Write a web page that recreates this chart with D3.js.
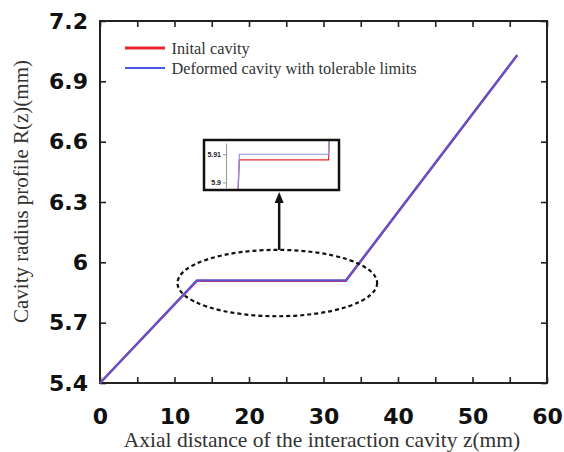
<!DOCTYPE html>
<html>
<head>
<meta charset="utf-8">
<script src="https://cdn.jsdelivr.net/npm/d3@7"></script>
<style>
  html, body { margin: 0; padding: 0; background: #fff; }
  svg { display: block; }
</style>
</head>
<body>
<svg id="chart" width="564" height="452"></svg>
<script>
// Axial position along the cavity (mm)
const zValues = [0, 13, 33, 56];
// Cavity radius profiles R(z) (mm)
const initialRadius = [5.4, 5.908, 5.908, 7.03];
const deformedRadius = [5.4, 5.91, 5.91, 7.03];
// Axis ticks
const xTicks = [0, 5, 10, 15, 20, 25, 30, 35, 40, 45, 50, 55, 60];
const yTicks = [5.4, 5.7, 6.0, 6.3, 6.6, 6.9, 7.2];
const insetTicks = [5.9, 5.91];
const seriesNames = ["Inital cavity", "Deformed cavity with tolerable limits"];

const svg = d3.select("#chart");
const W = 564, H = 452;
const m = { left: 100, right: 17, top: 21, bottom: 69 };

const x = d3.scaleLinear().domain([0, 60]).range([m.left, W - m.right]);
const y = d3.scaleLinear().domain([5.4, 7.2]).range([H - m.bottom, m.top]);

const RED = "#e8262a", BLUE = "#4a5ae6";
const tickFont = "'DejaVu Sans', Arial, sans-serif";
const serif = "'Liberation Serif', 'Times New Roman', serif";

const initial = zValues.map((z, i) => ({ z, r: initialRadius[i] }));
const deformed = zValues.map((z, i) => ({ z, r: deformedRadius[i] }));

// Axes with inward ticks on all four sides
function styleAxis(g) {
  g.select(".domain").remove();
  g.selectAll(".tick line").attr("stroke", "#222").attr("stroke-width", 1.6);
  g.selectAll("text").attr("fill", "#111").attr("font-family", tickFont)
    .attr("font-weight", "bold").attr("font-size", 22);
}
svg.append("g").attr("transform", `translate(0,${y(5.4)})`)
  .call(d3.axisBottom(x).tickValues(xTicks).tickSize(-6).tickPadding(25)
    .tickFormat(d => d % 10 === 0 ? d : ""))
  .call(styleAxis);
svg.append("g").attr("transform", `translate(0,${y(7.2)})`)
  .call(d3.axisTop(x).tickValues(xTicks).tickSize(-6).tickFormat(""))
  .call(styleAxis);
svg.append("g").attr("transform", `translate(${x(0)},0)`)
  .call(d3.axisLeft(y).tickValues(yTicks).tickSize(-6).tickPadding(12)
    .tickFormat(d => String(+d.toFixed(1))))
  .call(styleAxis);
svg.append("g").attr("transform", `translate(${x(60)},0)`)
  .call(d3.axisRight(y).tickValues(yTicks).tickSize(-6).tickFormat(""))
  .call(styleAxis);

// Plot frame
svg.append("rect")
  .attr("x", x(0)).attr("y", y(7.2))
  .attr("width", x(60) - x(0)).attr("height", y(5.4) - y(7.2))
  .attr("fill", "none").attr("stroke", "#222").attr("stroke-width", 2);

// Profiles
const line = d3.line().x(d => x(d.z)).y(d => y(d.r));
svg.append("path").datum(initial).attr("d", line)
  .attr("fill", "none").attr("stroke", RED).attr("stroke-width", 2.4);
svg.append("path").datum(deformed).attr("d", line)
  .attr("fill", "none").attr("stroke", BLUE).attr("stroke-width", 2.2).attr("opacity", 0.9);

// Dashed ellipse around the flat section
const ell = { z: 23.8, r: 5.897, dz: 13.4, dr: 0.165 };
svg.append("ellipse")
  .attr("cx", x(ell.z)).attr("cy", y(ell.r))
  .attr("rx", x(ell.dz) - x(0)).attr("ry", y(5.4) - y(5.4 + ell.dr))
  .attr("fill", "none").attr("stroke", "#111").attr("stroke-width", 2.2)
  .attr("stroke-dasharray", "4,3");

// Inset: magnified view of the flat section
const box = { x0: 204, y0: 140, x1: 339, y1: 190 };
const xi = d3.scaleLinear().domain([10, 35]).range([226, 337.5]);
const yi = d3.scaleLinear().domain([5.898, 5.914]).range([box.y1 - 2, box.y0 + 3]);

svg.append("rect").attr("x", box.x0).attr("y", box.y0)
  .attr("width", box.x1 - box.x0).attr("height", box.y1 - box.y0)
  .attr("fill", "#fff");

svg.append("defs").append("clipPath").attr("id", "insetClip")
  .append("rect").attr("x", box.x0 + 1).attr("y", box.y0 + 1)
  .attr("width", box.x1 - box.x0 - 2).attr("height", box.y1 - box.y0 - 2);

const insetAxis = svg.append("g").attr("transform", `translate(${xi(10)},0)`)
  .call(d3.axisLeft(yi).tickValues(insetTicks).tickSize(3).tickSizeOuter(0).tickPadding(2)
    .tickFormat(d => String(+d.toFixed(2))));
insetAxis.select(".domain").attr("stroke", "#999").attr("stroke-width", 1);
insetAxis.selectAll(".tick line").attr("stroke", "#999");
insetAxis.selectAll("text").attr("font-family", "'Liberation Sans', Arial, sans-serif")
  .attr("font-size", 7).attr("font-weight", "bold").attr("fill", "#222");

const lineInset = d3.line().x(d => xi(d.z)).y(d => yi(d.r));
const insetG = svg.append("g").attr("clip-path", "url(#insetClip)");
insetG.append("path").datum(initial).attr("d", lineInset)
  .attr("fill", "none").attr("stroke", RED).attr("stroke-width", 1.2);
insetG.append("path").datum(deformed).attr("d", lineInset)
  .attr("fill", "none").attr("stroke", "#8a94ee").attr("stroke-width", 1.2);

svg.append("rect").attr("x", box.x0).attr("y", box.y0)
  .attr("width", box.x1 - box.x0).attr("height", box.y1 - box.y0)
  .attr("fill", "none").attr("stroke", "#111").attr("stroke-width", 2.5);

// Arrow from the ellipse to the inset
const ax = x(24.05), ayFrom = y(ell.r + ell.dr), ayTo = box.y1 + 2;
svg.append("line").attr("x1", ax).attr("x2", ax).attr("y1", ayFrom).attr("y2", ayTo + 8)
  .attr("stroke", "#111").attr("stroke-width", 2.5);
svg.append("path")
  .attr("d", `M${ax},${ayTo} L${ax - 4.5},${ayTo + 11} L${ax + 4.5},${ayTo + 11} Z`)
  .attr("fill", "#111");

// Legend
const legend = svg.append("g");
const legendItems = [
  { name: seriesNames[0], color: RED, w: 3, ly: 48 },
  { name: seriesNames[1], color: BLUE, w: 2, ly: 68 }
];
legendItems.forEach(it => {
  legend.append("line").attr("x1", 125).attr("x2", 165).attr("y1", it.ly).attr("y2", it.ly)
    .attr("stroke", it.color).attr("stroke-width", it.w);
  legend.append("text").attr("x", 171.5).attr("y", it.ly + 6)
    .attr("font-family", serif).attr("font-size", 16.3).attr("fill", "#333")
    .text(it.name);
});

// Axis titles
svg.append("text").attr("x", 322).attr("y", 446.5).attr("text-anchor", "middle")
  .attr("font-family", serif).attr("font-size", 21.5).attr("fill", "#333")
  .text("Axial distance of the interaction cavity z(mm)");
svg.append("text").attr("transform", "translate(28,191.5) rotate(-90)")
  .attr("text-anchor", "middle")
  .attr("font-family", serif).attr("font-size", 21).attr("fill", "#333")
  .text("Cavity radius profile R(z)(mm)");
</script>
</body>
</html>
